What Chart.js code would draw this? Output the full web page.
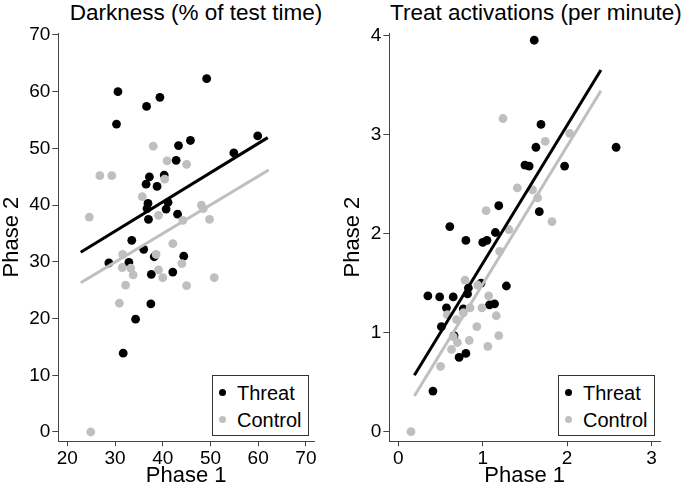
<!DOCTYPE html>
<html>
<head>
<meta charset="utf-8">
<script src="https://cdn.jsdelivr.net/npm/chart.js@4.4.0/dist/chart.umd.min.js"></script>
<style>
  body { margin: 0; background: #fff; font-family: "Liberation Sans", Arial, sans-serif; }
  #wrap { position: relative; width: 682px; height: 488px; overflow: hidden; }
  canvas { position: absolute; top: 0; }
  .ttl { position: absolute; top: 0; font-size: 22.5px; line-height: 26px; text-align: center; color: #000; white-space: nowrap; }
  .leg { position: absolute; box-sizing: border-box; border: 1px solid #333; background: #fff; width: 97px; height: 61px; }
  .leg .dot { position: absolute; width: 7px; height: 7px; border-radius: 50%; }
  .leg .lab { position: absolute; font-size: 20px; line-height: 24px; height: 24px; white-space: nowrap; color: #000; }
</style>
</head>
<body>
<div id="wrap">
  <div class="ttl" style="left:0; width:392px;">Darkness (% of test time)</div>
  <div class="ttl" style="left:390px; width:282px;">Treat activations (per minute)</div>
  <canvas id="darkness" width="341" height="488" style="left:0"></canvas>
  <canvas id="treat" width="341" height="488" style="left:341px"></canvas>
  <div class="leg" style="left:212px; top:375px;">
    <span class="dot" style="left:6px; top:13px; background:#000"></span>
    <span class="lab" style="left:24px; top:5px;">Threat</span>
    <span class="dot" style="left:6px; top:40px; background:#bfbfbf"></span>
    <span class="lab" style="left:24px; top:32px;">Control</span>
  </div>
  <div class="leg" style="left:558px; top:375px;">
    <span class="dot" style="left:6px; top:13px; background:#000"></span>
    <span class="lab" style="left:24px; top:5px;">Threat</span>
    <span class="dot" style="left:6px; top:40px; background:#bfbfbf"></span>
    <span class="lab" style="left:24px; top:32px;">Control</span>
  </div>
</div>
<script>
// Darkness (% of test time), Phase 1 vs Phase 2
var darkThreatX = [49.2, 30.6, 39.4, 36.6, 30.3, 45.8, 43.3, 59.9, 54.9, 42.8, 37.2, 40.3, 36.5, 38.8, 36.9, 36.7, 41.1, 40.7, 43.1, 37.0, 33.5, 36.0, 38.2, 44.4, 28.7, 32.9, 37.6, 42.1, 37.5, 31.7, 34.3];
var darkThreatY = [62.3, 60.0, 59.0, 57.4, 54.3, 51.4, 50.5, 52.2, 49.2, 47.9, 45.0, 45.3, 43.7, 43.3, 40.3, 39.4, 40.5, 39.3, 38.4, 37.5, 33.8, 32.2, 30.9, 31.0, 29.8, 29.9, 27.8, 28.2, 22.6, 13.9, 19.9];
var darkControlX = [38.0, 40.9, 45.0, 26.8, 29.3, 40.4, 35.7, 48.1, 48.5, 24.6, 39.1, 44.2, 49.8, 42.1, 31.6, 38.6, 31.5, 33.3, 44.0, 33.8, 39.1, 40.0, 50.8, 32.2, 45.0, 30.9, 24.9];
var darkControlY = [50.4, 47.8, 47.2, 45.2, 45.2, 44.6, 41.5, 40.0, 39.4, 37.9, 38.2, 37.3, 37.5, 33.2, 31.3, 31.3, 29.0, 28.9, 29.7, 27.7, 28.6, 27.2, 27.2, 25.9, 25.8, 22.7, 0.0];
var darkThreatLineX = [22.8, 62.0];
var darkThreatLineY = [31.7, 51.9];
var darkControlLineX = [22.8, 62.2];
var darkControlLineY = [26.3, 46.2];
var darkXTicks = [20, 30, 40, 50, 60, 70];
var darkYTicks = [0, 10, 20, 30, 40, 50, 60, 70];

// Treat activations (per minute)
var treatThreatX = [1.61, 1.69, 1.63, 2.58, 1.50, 1.55, 1.97, 1.19, 1.67, 0.61, 1.15, 0.80, 1.00, 1.05, 1.28, 0.83, 0.82, 0.35, 0.49, 0.65, 0.57, 0.77, 1.08, 1.14, 0.98, 0.51, 0.66, 0.80, 0.72, 0.41];
var treatThreatY = [3.95, 3.10, 2.87, 2.87, 2.69, 2.68, 2.68, 2.28, 2.22, 2.07, 2.01, 1.93, 1.91, 1.93, 1.47, 1.45, 1.39, 1.37, 1.36, 1.36, 1.25, 1.24, 1.28, 1.29, 1.50, 1.06, 0.97, 0.79, 0.75, 0.41];
var treatControlX = [1.24, 1.74, 2.03, 1.41, 1.59, 1.65, 1.04, 1.82, 1.31, 1.20, 0.79, 0.94, 1.07, 0.85, 0.99, 1.16, 0.58, 0.77, 0.69, 0.93, 1.19, 0.65, 0.70, 0.84, 0.63, 1.06, 0.50, 0.15];
var treatControlY = [3.16, 2.93, 3.01, 2.46, 2.44, 2.36, 2.23, 2.12, 2.04, 1.82, 1.53, 1.48, 1.37, 1.25, 1.25, 1.17, 1.18, 1.20, 1.13, 1.06, 0.97, 0.96, 0.90, 0.92, 0.83, 0.86, 0.66, 0.00];
var treatThreatLineX = [0.19, 2.40];
var treatThreatLineY = [0.57, 3.65];
var treatControlLineX = [0.19, 2.40];
var treatControlLineY = [0.36, 3.44];
var treatXTicks = [0, 1, 2, 3];
var treatYTicks = [0, 1, 2, 3, 4];

var BLACK = '#000000';
var GRAY = '#bfbfbf';
var AXIS = '#444444';
var FONT = '"Liberation Sans", Arial, sans-serif';

function pts(xs, ys) {
    return xs.map(function (x, i) { return { x: x, y: ys[i] }; });
}

function drawPanel(id, p) {
    var ctx = document.getElementById(id).getContext('2d');
    return new Chart(ctx, {
        type: 'scatter',
        data: {
            datasets: [
                { data: pts(p.ctlLineX, p.ctlLineY), showLine: true, borderColor: GRAY, borderWidth: 3, pointRadius: 0, order: 0 },
                { data: pts(p.thrLineX, p.thrLineY), showLine: true, borderColor: BLACK, borderWidth: 3, pointRadius: 0, order: 1 },
                { data: pts(p.ctlX, p.ctlY), backgroundColor: GRAY, borderWidth: 0, pointRadius: 4.4, order: 2 },
                { data: pts(p.thrX, p.thrY), backgroundColor: BLACK, borderWidth: 0, pointRadius: 4.4, order: 3 }
            ]
        },
        options: {
            responsive: false,
            animation: false,
            devicePixelRatio: 1,
            layout: { padding: { top: 33, right: p.padRight, bottom: 0, left: 0 } },
            plugins: { legend: { display: false }, tooltip: { enabled: false } },
            scales: {
                x: {
                    type: 'linear',
                    min: p.xMin, max: p.xMax,
                    afterBuildTicks: function (s) { s.ticks = p.xTicks.map(function (v) { return { value: v }; }); },
                    afterFit: function (s) { s.height = 46.7; },
                    border: { display: true, color: AXIS, width: 1 },
                    grid: { display: true, drawOnChartArea: false, drawTicks: true, tickLength: 5, color: AXIS },
                    ticks: { color: BLACK, padding: 1, maxRotation: 0, font: { family: FONT, size: 19 } },
                    title: { display: true, text: 'Phase 1', color: BLACK, padding: 0, font: { family: FONT, size: 22, lineHeight: 1.1 } }
                },
                y: {
                    type: 'linear',
                    min: p.yMin, max: p.yMax,
                    afterBuildTicks: function (s) { s.ticks = p.yTicks.map(function (v) { return { value: v }; }); },
                    afterFit: function (s) { s.width = p.yWidth; },
                    border: { display: true, color: AXIS, width: 1 },
                    grid: { display: true, drawOnChartArea: false, drawTicks: true, tickLength: 6, color: AXIS },
                    ticks: { color: BLACK, padding: 2, font: { family: FONT, size: 19 } },
                    title: { display: true, text: 'Phase 2', color: BLACK, padding: 0, font: { family: FONT, size: 22, lineHeight: 1.1 } }
                }
            }
        }
    });
}

drawPanel('darkness', {
    thrX: darkThreatX, thrY: darkThreatY, ctlX: darkControlX, ctlY: darkControlY,
    thrLineX: darkThreatLineX, thrLineY: darkThreatLineY, ctlLineX: darkControlLineX, ctlLineY: darkControlLineY,
    xTicks: darkXTicks, yTicks: darkYTicks,
    xMin: 18.1, xMax: 71.7, yMin: -1.64, yMax: 70.35,
    yWidth: 58.3, padRight: 27
});

drawPanel('treat', {
    thrX: treatThreatX, thrY: treatThreatY, ctlX: treatControlX, ctlY: treatControlY,
    thrLineX: treatThreatLineX, thrLineY: treatThreatLineY, ctlLineX: treatControlLineX, ctlLineY: treatControlLineY,
    xTicks: treatXTicks, yTicks: treatYTicks,
    xMin: -0.107, xMax: 3.1, yMin: -0.097, yMax: 4.023,
    yWidth: 48.3, padRight: 22
});
</script>
</body>
</html>
